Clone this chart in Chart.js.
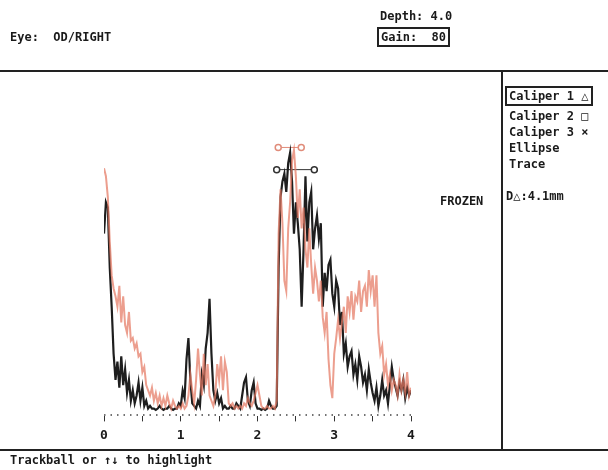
<!DOCTYPE html>
<html>
<head>
<meta charset="utf-8">
<script src="https://cdn.jsdelivr.net/npm/chart.js@4.4.1/dist/chart.umd.min.js"></script>
<style>
  html, body { margin: 0; padding: 0; background: #fff; }
  #wrap { position: relative; width: 608px; height: 470px; overflow: hidden;
          font-family: "DejaVu Sans Mono", monospace; font-weight: bold; font-size: 12px; color: #1a1a1a; }
  #wrap canvas { position: absolute; left: 0; top: 0; }
  .t { position: absolute; white-space: pre; line-height: 14px; }
  .hl { position: absolute; background: #222; }
</style>
</head>
<body>
<div id="wrap">
  <canvas id="scan" width="608" height="470"></canvas>
  <div class="t" style="left:10px; top:30px;">Eye:  OD/RIGHT</div>
  <div class="t" style="left:380px; top:9px;">Depth: 4.0</div>
  <div class="t" style="left:377px; top:27px; border:2px solid #222; padding:1px 2px; line-height:14px;">Gain:  80</div>
  <div class="hl" style="left:0; top:70px; width:608px; height:2px;"></div>
  <div class="hl" style="left:501px; top:71px; width:2px; height:379px;"></div>
  <div class="hl" style="left:0; top:449px; width:608px; height:2px;"></div>
  <div class="t" style="left:505px; top:86px; border:2px solid #222; padding:1px 3px 1px 2px;">Caliper 1 △</div>
  <div class="t" style="left:509px; top:109px;">Caliper 2 □</div>
  <div class="t" style="left:509px; top:125px;">Caliper 3 ×</div>
  <div class="t" style="left:509px; top:141px;">Ellipse</div>
  <div class="t" style="left:509px; top:157px;">Trace</div>
  <div class="t" style="left:506px; top:189px;">D△:4.1mm</div>
  <div class="t" style="left:440px; top:194px;">FROZEN</div>
  <div class="t" style="left:10px; top:453px;">Trackball or ↑↓ to highlight</div>
</div>
<script>
// depth axis, 0..4 in steps of 0.025
const depthStep = 0.025;
const tickValues = [0, 1, 2, 3, 4];

// second scan (salmon)
const scanB = [
  93, 90, 82, 65, 52, 47, 44, 40, 48, 34, 44, 33, 30, 38, 27, 28, 24, 26, 21, 22,
  15, 17, 10, 8, 6, 9, 4, 7, 3, 6, 2, 5, 2, 6, 3, 1, 4, 2, 1, 2,
  1, 3, 1, 2, 6, 14, 8, 3, 12, 24, 14, 6, 22, 10, 18, 6, 4, 2, 6, 18,
  12, 21, 8, 19, 15, 3, 2, 3, 1, 2, 1, 2, 1, 3, 2, 5, 3, 2, 4, 7,
  10, 6, 2, 1, 1, 2, 1, 1, 2, 1, 4, 68, 85, 72, 50, 46, 70, 80, 96, 100,
  90, 74, 85, 70, 78, 62, 55, 70, 56, 45, 55, 50, 42, 50, 36, 30, 38, 20, 10, 5,
  22, 28, 35, 28, 34, 40, 30, 44, 38, 46, 35, 44, 42, 50, 38, 46, 48, 40, 54, 46,
  52, 40, 52, 30, 22, 25, 14, 18, 10, 14, 8, 12, 10, 6, 14, 8, 12, 7, 15, 6,
  9
];

// first scan (black)
const scanA = [
  68, 80, 78, 55, 40, 22, 12, 19, 9, 21, 10, 16, 7, 12, 4, 8, 3, 6, 11, 4,
  9, 2, 4, 1, 2, 1, 1, 0.5, 1, 2, 1, 0.5, 1, 1, 2, 1, 0.5, 1, 1, 3,
  2, 8, 5, 20, 28, 12, 3, 2, 1, 4, 2, 14, 10, 24, 30, 43, 22, 8, 4, 7,
  3, 5, 1, 2, 1, 1, 2, 1, 1, 3, 2, 1, 6, 11, 13, 4, 2, 8, 11, 3,
  1, 1, 0.5, 1, 0.5, 1, 4, 2, 1, 1, 2, 55, 82, 88, 91, 84, 95, 99, 88, 68,
  80, 72, 62, 40, 62, 90, 65, 80, 84, 62, 70, 75, 66, 72, 40, 53, 46, 56, 58, 45,
  40, 50, 47, 33, 38, 22, 26, 17, 21, 23, 14, 18, 12, 21, 17, 11, 14, 8, 16, 11,
  7, 4, 9, 2, 6, 12, 6, 8, 3, 10, 17, 12, 9, 6, 11, 8, 12, 5, 9, 6,
  8
];

// caliper positions (depth) and heights
const caliperB = [2.27, 2.57];
const caliperBLevel = 101;
const caliperA = [2.25, 2.74];
const caliperALevel = 92.5;

const toPoints = arr => arr.map((v, i) => ({ x: +(i * depthStep).toFixed(3), y: v }));

new Chart(document.getElementById('scan'), {
  type: 'line',
  data: {
    datasets: [
      {
        data: toPoints(scanB),
        borderColor: 'rgba(228,120,98,0.72)',
        borderWidth: 2,
        pointRadius: 0,
        tension: 0
      },
      {
        data: toPoints(scanA),
        borderColor: '#1e1e1e',
        borderWidth: 2.2,
        pointRadius: 0,
        tension: 0
      },
      {
        data: caliperB.map(x => ({ x, y: caliperBLevel })),
        borderColor: '#e08c7a',
        borderWidth: 1,
        pointStyle: 'circle',
        pointRadius: 3,
        pointBorderWidth: 1.5,
        pointBackgroundColor: '#fff'
      },
      {
        data: caliperA.map(x => ({ x, y: caliperALevel })),
        borderColor: '#333',
        borderWidth: 1,
        pointStyle: 'circle',
        pointRadius: 3,
        pointBorderWidth: 1.5,
        pointBackgroundColor: '#fff'
      },
      {
        // dotted depth baseline
        data: [{ x: 0, y: -1.5 }, { x: 4, y: -1.5 }],
        borderColor: '#444',
        borderWidth: 1.5,
        borderDash: [1.5, 5],
        pointRadius: 0
      }
    ]
  },
  options: {
    responsive: false,
    animation: false,
    layout: { padding: { left: 104, right: 197, top: 137, bottom: 21 } },
    plugins: { legend: { display: false }, tooltip: { enabled: false } },
    scales: {
      x: {
        type: 'linear',
        min: 0,
        max: 4,
        afterBuildTicks: axis => { axis.ticks = [0, 0.5, 1, 1.5, 2, 2.5, 3, 3.5, 4].map(v => ({ value: v })); },
        grid: { drawOnChartArea: false, color: '#333', tickLength: 5, lineWidth: 1 },
        border: { display: false },
        ticks: {
          color: '#1a1a1a',
          padding: 6,
          maxRotation: 0,
          font: { family: 'DejaVu Sans Mono', weight: 'bold', size: 13 },
          callback: v => tickValues.includes(v) ? String(v) : ''
        }
      },
      y: { display: false, min: -2, max: 105 }
    }
  }
});
</script>
</body>
</html>
